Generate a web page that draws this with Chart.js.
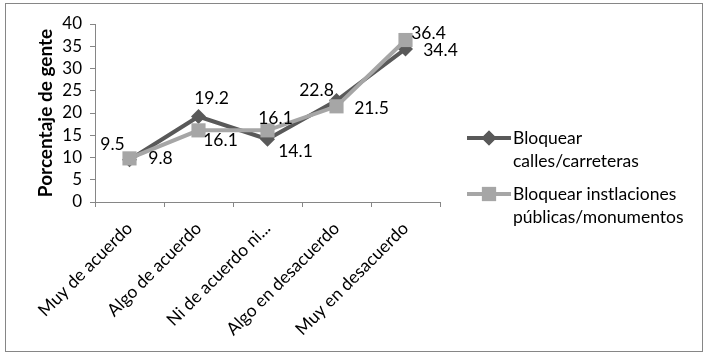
<!DOCTYPE html>
<html><head><meta charset="utf-8">
<script src="https://cdn.jsdelivr.net/npm/chart.js@4/dist/chart.umd.min.js"></script>
<style>html,body{margin:0;padding:0;background:#fff;}#wrap{width:709px;height:357px;}</style>
</head><body><div id="wrap"><canvas id="c" width="709" height="357"></canvas></div>
<script>
// ---- data ----
const categories = ['Muy de acuerdo', 'Algo de acuerdo', 'Ni de acuerdo ni...', 'Algo en desacuerdo', 'Muy en desacuerdo'];
const seriesNames = [['Bloquear', 'calles/carreteras'], ['Bloquear instlaciones', 'públicas/monumentos']];
const bloquearCalles = [9.5, 19.2, 14.1, 22.8, 34.4];
const bloquearInstalaciones = [9.8, 16.1, 16.1, 21.5, 36.4];
const yMin = 0, yMax = 40, yStep = 5;
const yTitle = 'Porcentaje de gente';

// ---- style ----
const FONT = 'Lato';
const colors = ['#595959', '#A6A6A6'];
const labelOffsets = [
  [[-17, -15], [13, -18], [28, 12], [-20, -10], [35, 1]],
  [[31, 0], [22, 10], [8, -12], [35, 2], [23, -7]]
];

const frame = {
  id: 'frame',
  beforeDraw(chart) {
    const ctx = chart.ctx;
    ctx.save();
    ctx.fillStyle = '#fff';
    ctx.fillRect(0, 0, chart.width, chart.height);
    ctx.strokeStyle = '#868686';
    ctx.lineWidth = 1;
    ctx.strokeRect(5.5, 3.5, 697, 348);
    ctx.restore();
  }
};

const valueLabels = {
  id: 'valueLabels',
  afterDatasetsDraw(chart) {
    const ctx = chart.ctx;
    ctx.save();
    ctx.font = '17.5px ' + FONT;
    ctx.fillStyle = '#000';
    ctx.textAlign = 'center';
    ctx.textBaseline = 'middle';
    chart.data.datasets.forEach((ds, i) => {
      const meta = chart.getDatasetMeta(i);
      meta.data.forEach((pt, j) => {
        const [dx, dy] = labelOffsets[i][j];
        ctx.fillText(ds.data[j].toFixed(1), pt.x + dx, pt.y + dy);
      });
    });
    ctx.restore();
  }
};

const sideLegend = {
  id: 'sideLegend',
  afterDraw(chart) {
    const ctx = chart.ctx;
    ctx.save();
    const x0 = 467, x1 = 511, mx = 489, tx = 513;
    const ys = [138, 194];
    chart.data.datasets.forEach((ds, i) => {
      const y = ys[i];
      ctx.strokeStyle = ds.borderColor;
      ctx.lineWidth = 4;
      ctx.beginPath(); ctx.moveTo(x0, y); ctx.lineTo(x1, y); ctx.stroke();
      ctx.fillStyle = ds.borderColor;
      Chart.helpers.drawPoint(ctx, {pointStyle: ds.pointStyle, radius: ds.pointRadius, rotation: 0, borderWidth: 0}, mx, y);
      ctx.fill();
      ctx.fillStyle = '#000';
      ctx.font = '17.5px ' + FONT;
      ctx.textAlign = 'left';
      ctx.textBaseline = 'middle';
      seriesNames[i].forEach((line, k) => ctx.fillText(line, tx, y + k * 23));
    });
    ctx.restore();
  }
};

new Chart(document.getElementById('c'), {
  type: 'line',
  data: {
    labels: categories,
    datasets: [
      {label: seriesNames[0].join(' '), data: bloquearCalles, borderColor: colors[0], backgroundColor: colors[0],
       borderWidth: 4, pointStyle: 'rectRot', pointRadius: 7.5, pointBorderWidth: 0, order: 1, tension: 0},
      {label: seriesNames[1].join(' '), data: bloquearInstalaciones, borderColor: colors[1], backgroundColor: colors[1],
       borderWidth: 4, pointStyle: 'rect', pointRadius: 10, pointBorderWidth: 0, order: 0, tension: 0}
    ]
  },
  options: {
    responsive: false,
    animation: false,
    devicePixelRatio: 1,
    layout: {padding: {left: 0, top: 24, right: 269, bottom: 0}},
    plugins: {legend: {display: false}, tooltip: {enabled: false}},
    scales: {
      x: {
        offset: true,
        grid: {offset: true, drawOnChartArea: false, drawTicks: true, tickLength: 5, color: '#868686'},
        border: {color: '#868686', width: 1},
        ticks: {autoSkip: false, minRotation: 45, maxRotation: 45, color: '#000', font: {family: FONT, size: 17.5}, padding: 11},
        afterFit(s) { s.height = 155; }
      },
      y: {
        min: yMin, max: yMax,
        grid: {drawOnChartArea: false, drawTicks: true, tickLength: 5, color: '#868686'},
        border: {color: '#868686', width: 1},
        ticks: {stepSize: yStep, autoSkip: false, color: '#000', font: {family: FONT, size: 17}, padding: 8},
        title: {display: true, text: yTitle, color: '#000', font: {family: FONT, size: 19, weight: 'bold'}, padding: {top: 34, bottom: 0}},
        afterFit(s) { s.width = 95; }
      }
    }
  },
  plugins: [frame, valueLabels, sideLegend]
});
</script></body></html>
